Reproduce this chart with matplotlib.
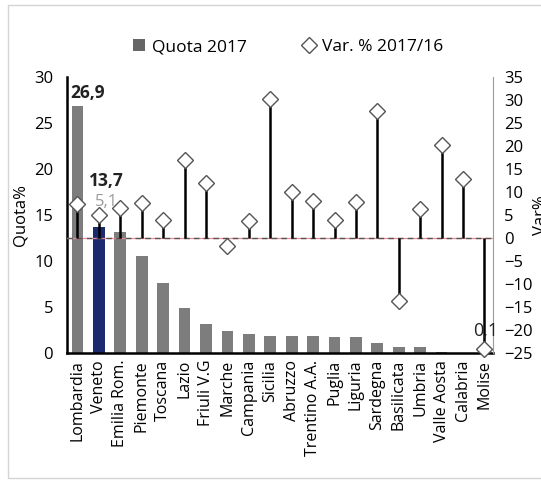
import matplotlib
matplotlib.use("Agg")
import matplotlib.pyplot as plt
from matplotlib.patches import Patch, Rectangle
from matplotlib.lines import Line2D
import numpy as np

plt.rcParams['font.family'] = ['Open Sans', 'DejaVu Sans']

regions = ["Lombardia", "Veneto", "Emilia Rom.", "Piemonte", "Toscana", "Lazio",
           "Friuli V.G", "Marche", "Campania", "Sicilia", "Abruzzo", "Trentino A.A.",
           "Puglia", "Liguria", "Sardegna", "Basilicata", "Umbria", "Valle Aosta",
           "Calabria", "Molise"]
quota_2017 = [26.9, 13.7, 13.1, 10.5, 7.6, 4.9, 3.1, 2.4, 2.1, 1.9, 1.8, 1.8,
              1.7, 1.7, 1.1, 0.7, 0.7, 0.1, 0.05, 0.1]
var_2017_16 = [7.3, 5.1, 6.5, 7.7, 4.0, 17.0, 12.0, -1.8, 3.8, 30.2, 10.1, 8.1,
               4.0, 7.9, 27.6, -13.7, 6.2, 20.2, 12.9, -24.1]
left_ticks = [0, 5, 10, 15, 20, 25, 30]
right_ticks = [-25, -20, -15, -10, -5, 0, 5, 10, 15, 20, 25, 30, 35]

n = len(regions)

def fmt(v):
    return f"{v:.1f}".replace('.', ',')

fig = plt.figure(figsize=(5.41, 4.8), dpi=100)
fig.patches.append(Rectangle((8/541, 2/480), 1.0, 473/480, transform=fig.transFigure,
                             fill=False, edgecolor='#d4d4d4', lw=1.0))
ax = fig.add_axes([67/541, 1 - 353/480, (493 - 67)/541, (353 - 77)/480])
ax2 = ax.twinx()

x = np.arange(n)
colors = ['#7d7d7d'] * n
colors[1] = '#1c2a6e'
ax.bar(x, quota_2017, width=0.55, color=colors, zorder=2)
ax.set_ylim(0, 30)
ax.set_yticks(left_ticks)
ax.set_xlim(-0.49, n - 1 + 0.4)
ax.set_xticks(x)
ax.set_xticklabels(regions, rotation=90, fontsize=11.5)
ax.tick_params(axis='both', length=0)
ax.tick_params(axis='y', labelsize=12, pad=10)
ax.tick_params(axis='x', pad=5)
ax.set_ylabel("Quota%", fontsize=12, labelpad=4)
ax.spines['top'].set_visible(False)
ax.spines['left'].set_linewidth(1.8)
ax.spines['bottom'].set_linewidth(1.8)
ax.spines['right'].set_visible(False)

ax2.set_ylim(-25, 35)
ax2.set_yticks(right_ticks)
ax2.tick_params(axis='y', length=0, labelsize=12, pad=8)
ax2.spines['top'].set_visible(False)
ax2.spines['left'].set_visible(False)
ax2.spines['bottom'].set_visible(False)
ax2.spines['right'].set_color('#9a9a9a')
ax2.spines['right'].set_linewidth(0.8)
ax2.set_ylabel("Var%", fontsize=12, labelpad=0)

ax2.axhline(0, color='#e88a9a', lw=0.9, zorder=1)
ax2.axhline(0, color='#555555', lw=1.0, ls=(0, (4, 3)), zorder=1)
ax2.vlines(x, 0, var_2017_16, color='black', lw=1.8, zorder=3)
ax2.plot(x, var_2017_16, ls='none', marker='D', markersize=8.5, markerfacecolor='white',
         markeredgecolor='#555555', markeredgewidth=1.0, zorder=4, clip_on=False)

# data labels
ax.text(x[0] - 0.35, 28.3, fmt(quota_2017[0]),
        fontsize=12.5, fontweight='bold', color='#222222', va='center', ha='left')
ax.text(x[1] + 0.35, 18.7, fmt(quota_2017[1]),
        fontsize=12.5, fontweight='bold', color='#222222', va='center', ha='center')
ax2.text(x[1] + 0.35, 7.9, fmt(var_2017_16[1]),
         fontsize=12, color='#9a9a9a', va='center', ha='center', zorder=5)
ax2.text(x[-1] + 0.05, -20.3, fmt(quota_2017[-1]),
         fontsize=13, color='#222222', va='center', ha='center', zorder=5)

handles = [Patch(facecolor='#666666', edgecolor='none'),
           Line2D([], [], ls='none', marker='D', markersize=8, markerfacecolor='white',
                  markeredgecolor='#555555', markeredgewidth=1.0)]
fig.legend(handles, ["Quota 2017", "Var. % 2017/16"], loc='center', ncol=2,
           bbox_to_anchor=(288/541, 1 - 47/480), frameon=False, fontsize=12.5,
           handlelength=0.7, handletextpad=0.4, columnspacing=3.2)

fig.savefig("out.png", dpi=100)
